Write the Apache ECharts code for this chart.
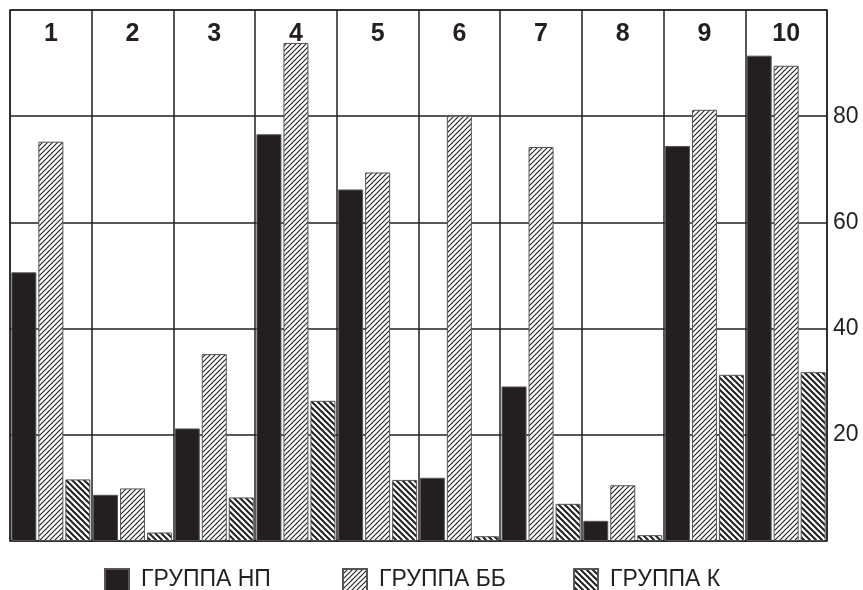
<!DOCTYPE html>
<html><head><meta charset="utf-8">
<script src="https://cdn.jsdelivr.net/npm/echarts@6/dist/echarts.min.js"></script>
<style>html,body{margin:0;padding:0;background:#fff}#c{width:863px;height:590px}</style>
</head><body><div id="c"></div>
<script>
var categories = ['1','2','3','4','5','6','7','8','9','10'];
var seriesNames = ['ГРУППА НП','ГРУППА ББ','ГРУППА К'];
var valuesNP = [50.6, 8.7, 21.2, 76.6, 66.2, 11.9, 29.1, 3.8, 74.4, 91.4];
var valuesBB = [75.2, 9.9, 35.2, 93.8, 69.4, 80.1, 74.2, 10.5, 81.2, 89.5];
var valuesK  = [11.6, 1.6, 8.2, 26.4, 11.5, 0.9, 7.0, 1.1, 31.3, 31.8];
var yTicks = [20, 40, 60, 80];

function hatch(size, lw, dir) {
  var c = document.createElement('canvas');
  c.width = size; c.height = size;
  var g = c.getContext('2d');
  g.fillStyle = '#fff'; g.fillRect(0,0,size,size);
  g.strokeStyle = '#231f20'; g.lineWidth = lw;
  g.beginPath();
  if (dir === '/') {
    g.moveTo(-1, size+1); g.lineTo(size+1, -1);
    g.moveTo(-1, 1); g.lineTo(1, -1);
    g.moveTo(size-1, size+1); g.lineTo(size+1, size-1);
  } else {
    g.moveTo(-1, -1); g.lineTo(size+1, size+1);
    g.moveTo(size-1, -1); g.lineTo(size+1, 1);
    g.moveTo(-1, size-1); g.lineTo(1, size+1);
  }
  g.stroke();
  return c;
}
var patBB = {image: hatch(5, 1.1, '/'), repeat: 'repeat'};
var patK = {image: hatch(6, 2, '\\'), repeat: 'repeat'};

var chart = echarts.init(document.getElementById('c'));
var font = '"Liberation Sans", Arial, sans-serif';
function bar(name, data, color) {
  return {
    name: name, type: 'bar', data: data, barWidth: 25, barGap: '8%',
    itemStyle: {color: color, borderColor: '#555', borderWidth: 1},
    emphasis: {disabled: true}
  };
}
function legend(name, left) {
  return {
    data: [name], left: left - 5, top: 563, icon: 'rect', itemWidth: 24, itemHeight: 22,
    itemGap: 0,
    textStyle: {fontSize: 23, color: '#231f20', fontFamily: font, padding: [0, 0, 0, 7]}
  };
}
chart.setOption({
  animation: false,
  grid: {left: 10, right: 36, top: 10, bottom: 49, show: true, borderColor: '#333', borderWidth: 1.5},
  legend: [legend(seriesNames[0], 104), legend(seriesNames[1], 342), legend(seriesNames[2], 573)],
  xAxis: {
    type: 'category', data: categories, position: 'top',
    axisLine: {show: false}, axisTick: {show: false},
    axisLabel: {inside: true, margin: 12, fontSize: 25, fontWeight: 'bold', color: '#231f20', fontFamily: font},
    splitLine: {show: true, lineStyle: {color: '#231f20', width: 1.5}}
  },
  yAxis: {
    type: 'value', position: 'right', min: 0, max: 100, interval: 20,
    axisLine: {show: false},
    axisTick: {show: false},
    axisLabel: {
      margin: 6, fontSize: 23, color: '#231f20', fontFamily: font,
      formatter: function (v) { return yTicks.indexOf(v) >= 0 ? String(v) : ''; }
    },
    splitLine: {show: true, lineStyle: {color: '#231f20', width: 1.5}}
  },
  series: [
    bar(seriesNames[0], valuesNP, '#231f20'),
    bar(seriesNames[1], valuesBB, patBB),
    bar(seriesNames[2], valuesK, patK)
  ]
});
</script></body></html>
